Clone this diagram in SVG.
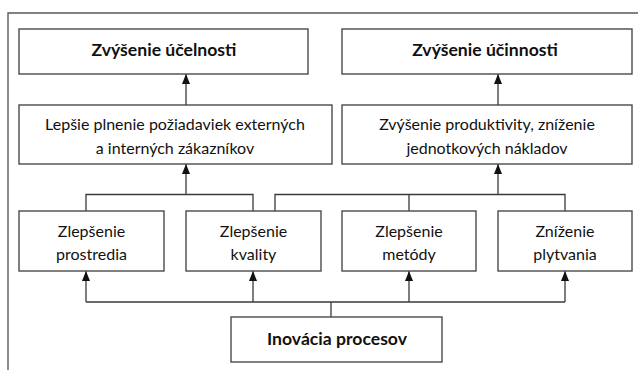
<svg xmlns="http://www.w3.org/2000/svg" width="638" height="370" viewBox="0 0 638 370">
<style>
.box{fill:#fff;stroke:#4a4a4a;stroke-width:1.4}
.frame{fill:none;stroke:#5a5a5a;stroke-width:1.4}
.con{fill:none;stroke:#3a3a3a;stroke-width:1.3}
text{font-family:Lato,"Open Sans","DejaVu Sans",sans-serif;fill:#111;text-anchor:middle}
.b{font-weight:bold;font-size:17.6px}
.n{font-size:16px}
</style>
<defs>
<marker id="ah" markerUnits="userSpaceOnUse" markerWidth="10" markerHeight="10" viewBox="0 0 10 10" refX="10" refY="5" orient="auto">
<path d="M0,1 L10,5 L0,9 Z" fill="#111"/>
</marker>
</defs>
<rect width="638" height="370" fill="#fff"/>
<path class="frame" d="M8,370 V13 H640"/>
<g id="connectors">
<path class="con" d="M186,105 V74" marker-end="url(#ah)"/>
<path class="con" d="M498,105 V74" marker-end="url(#ah)"/>
<path class="con" d="M86,211 V194.5 H253 V211"/>
<path class="con" d="M186,194.5 V164" marker-end="url(#ah)"/>
<path class="con" d="M275,211 V194.5 H565 V211"/>
<path class="con" d="M409,194.5 V211"/>
<path class="con" d="M498,194.5 V164" marker-end="url(#ah)"/>
<path class="con" d="M331,317 V302 M86,302 H565"/>
<path class="con" d="M86,302 V271" marker-end="url(#ah)"/>
<path class="con" d="M253,302 V271" marker-end="url(#ah)"/>
<path class="con" d="M409,302 V271" marker-end="url(#ah)"/>
<path class="con" d="M565,302 V271" marker-end="url(#ah)"/>
</g>
<g id="ucelnost"><rect class="box" x="19" y="29" width="289" height="45"/><text class="b" x="164" y="56">Zvýšenie účelnosti</text></g>
<g id="ucinnost"><rect class="box" x="342" y="29" width="290" height="45"/><text class="b" x="485" y="56">Zvýšenie účinnosti</text></g>
<g id="poziadavky"><rect class="box" x="19" y="105" width="313" height="59"/><text class="n" x="175" y="130">Lepšie plnenie požiadaviek externých</text><text class="n" x="175" y="154">a interných zákazníkov</text></g>
<g id="produktivita"><rect class="box" x="342" y="105" width="290" height="59"/><text class="n" x="487" y="130">Zvýšenie produktivity, zníženie</text><text class="n" x="487" y="154">jednotkových nákladov</text></g>
<g id="prostredia"><rect class="box" x="19" y="211" width="145" height="60"/><text class="n" x="91.5" y="237">Zlepšenie</text><text class="n" x="91.5" y="260">prostredia</text></g>
<g id="kvality"><rect class="box" x="186" y="211" width="135" height="60"/><text class="n" x="253.5" y="237">Zlepšenie</text><text class="n" x="253.5" y="260">kvality</text></g>
<g id="metody"><rect class="box" x="342" y="211" width="134" height="60"/><text class="n" x="409" y="237">Zlepšenie</text><text class="n" x="409" y="260">metódy</text></g>
<g id="plytvania"><rect class="box" x="498" y="211" width="134" height="60"/><text class="n" x="565" y="237">Zníženie</text><text class="n" x="565" y="260">plytvania</text></g>
<g id="inovacia"><rect class="box" x="231" y="317" width="211" height="45"/><text class="b" x="337" y="345">Inovácia procesov</text></g>
</svg>
